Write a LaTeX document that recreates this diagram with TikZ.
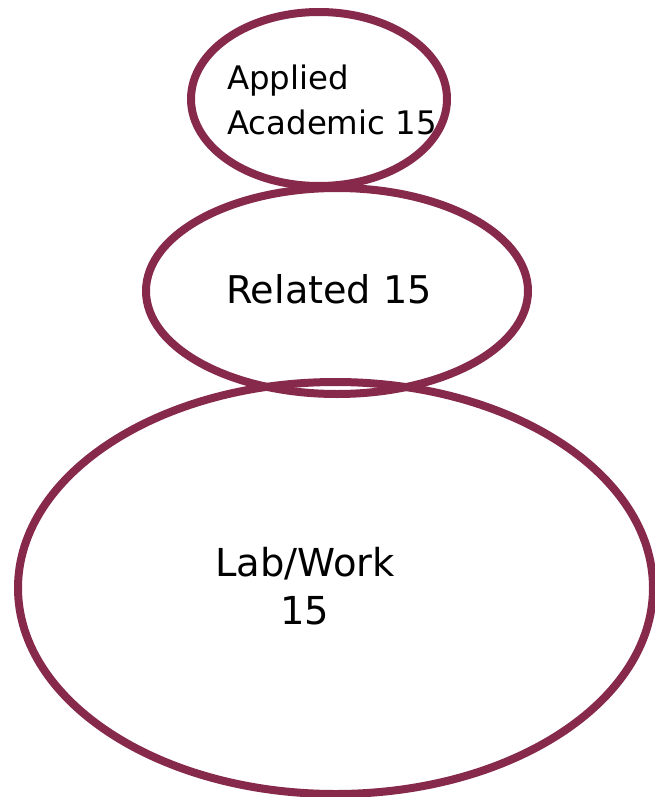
\documentclass[tikz,border=0pt]{standalone}
\usepackage{fontspec}
\setmainfont{DejaVu Sans}
\usetikzlibrary{shapes.geometric}
\definecolor{wine}{RGB}{134,41,74}
\tikzset{
  ring/.style={draw=wine, line width=8pt, ellipse, inner sep=0pt},
  lbl/.style={inner sep=0pt, text=black}
}
\begin{document}
\begin{tikzpicture}[x=1pt,y=-1pt]
    \useasboundingbox (0,0) rectangle (654,797);

    % Bottom: lab / work
    \node[ring, minimum width=635pt, minimum height=412pt] (lab) at (335.5,588) {};
    \node[lbl, align=center, font=\fontsize{38.5}{48}\selectfont] (labtxt) at (305,586) {Lab/Work\\15};

    % Middle: related
    \node[ring, minimum width=382pt, minimum height=206pt] (rel) at (337,291) {};
    \node[lbl, font=\fontsize{38.2}{46}\selectfont] (reltxt) at (329,289) {Related 15};

    % Top: applied academic
    \node[ring, minimum width=256pt, minimum height=174pt] (app) at (319,99) {};
    \node[lbl, align=left, anchor=west, font=\fontsize{32.4}{45}\selectfont] (apptxt) at (227,100) {Applied\\Academic 15};
\end{tikzpicture}
\end{document}
